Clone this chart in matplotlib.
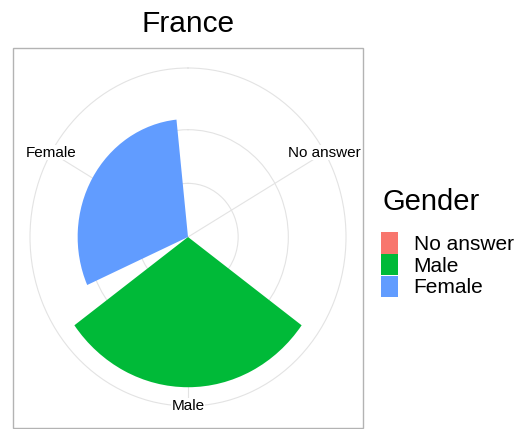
import numpy as np
import matplotlib
matplotlib.use('Agg')
import matplotlib.pyplot as plt
from matplotlib.patches import Rectangle

plt.rcParams['font.family'] = ['Liberation Sans', 'DejaVu Sans']

# datos
categorias = ["No answer", "Male", "Female"]
valores = [0, 14, 11]
colores = ["#F8766D", "#00BA38", "#619CFF"]
cortes_r = [5, 10]
titulo = "France"
titulo_leyenda = "Gender"

W, H = 524, 429
fig = plt.figure(figsize=(W / 100, H / 100), dpi=100)

# marco del panel (estilo ggplot)
fig.add_artist(Rectangle((13 / W, 1 - 428 / H), 350 / W, 380 / H, transform=fig.transFigure,
                         fill=False, ec="#B3B3B3", lw=1))

# ejes polares, estirados como en la imagen original
ax = fig.add_axes([30 / W, 1 - 406 / H, 316 / W, 338 / H], projection='polar')
ax.set_aspect('auto')
ax.set_theta_zero_location('N')
ax.set_theta_direction(-1)

n = len(categorias)
paso = 2 * np.pi / n
theta = (np.arange(n) + 0.5) * paso
r_max = max(valores) * 0.45 / 0.4

barras = ax.bar(theta, valores, width=0.9 * paso, color=colores, linewidth=0, zorder=3)

ax.set_ylim(0, r_max)
ax.set_yticks(cortes_r)
ax.set_yticklabels([])
ax.set_xticks(theta)
ax.set_xticklabels([])
ax.tick_params(length=0)
ax.grid(True, color="#E3E3E3", lw=0.8)
ax.spines['polar'].set_color("#E3E3E3")
ax.spines['polar'].set_linewidth(0.8)
ax.patch.set_alpha(0)

# etiquetas de categorias
for t, nombre in zip(theta, categorias):
    ax.text(t, r_max, nombre, ha='center', va='center', fontsize=11, color='black',
            bbox=dict(fc='white', ec='none', pad=0.5), zorder=4)

fig.text(188 / W, 1 - 32 / H, titulo, ha='center', va='baseline', fontsize=21.5)

# leyenda: titulo aparte para dejar el hueco como en ggplot
fig.text(382 / W, 1 - 210 / H, titulo_leyenda, ha='left', va='baseline', fontsize=21)
fig.legend(barras.patches, categorias, loc='upper left',
           bbox_to_anchor=(371 / W, 1 - 222 / H), frameon=False, fontsize=15,
           handlelength=0.8, handleheight=1.18, handletextpad=0.75,
           labelspacing=0, borderpad=0)

fig.savefig("out.png", dpi=100)
